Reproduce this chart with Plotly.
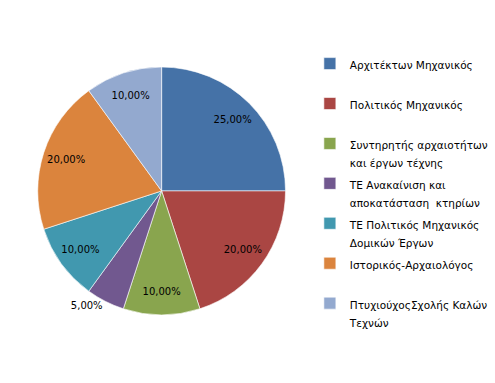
import plotly.graph_objects as go

labels = ["Αρχιτέκτων Μηχανικός",
          "Πολιτικός Μηχανικός",
          "Συντηρητής αρχαιοτήτων<br>και έργων τέχνης",
          "ΤΕ Ανακαίνιση και<br>αποκατάσταση  κτηρίων",
          "ΤΕ Πολιτικός Μηχανικός<br>Δομικών Έργων",
          "Ιστορικός-Αρχαιολόγος",
          "ΠτυχιούχοςΣχολής Καλών<br>Τεχνών"]
values = [25, 20, 10, 5, 10, 20, 10]
colors = ["#4572A7", "#AA4643", "#89A54E", "#71588F", "#4198AF", "#DB843D", "#93A9CF"]
textpos = ["inside", "inside", "inside", "outside", "inside", "inside", "inside"]

# every legend entry is two lines so entries are evenly spaced
def legend_label(l):
    parts = l.split("<br>")
    if len(parts) == 1:
        parts.append(" ")
    return "<br>".join("<span style='font-size:10.5px'>%s</span>" % p for p in parts)

legend_labels = [legend_label(l) for l in labels]

dom = dict(x=[0.075, 0.578], y=[0.178, 0.825])
font = dict(family="DejaVu Sans", size=10, color="#000000")

fig = go.Figure()
fig.add_trace(go.Pie(
    labels=legend_labels, values=values, sort=False,
    direction="clockwise", rotation=0,
    marker=dict(colors=colors, line=dict(color="white", width=0.6)),
    textinfo="none", domain=dom, hoverinfo="label+percent",
))
fig.add_trace(go.Pie(
    labels=legend_labels, values=values, sort=False,
    direction="clockwise", rotation=0, hole=0.62,
    marker=dict(colors=["rgba(0,0,0,0)"] * len(values), line=dict(width=0)),
    texttemplate="%{percent:.2%}", textposition=textpos,
    insidetextorientation="horizontal",
    textfont=font, outsidetextfont=font, insidetextfont=font,
    domain=dom, showlegend=False, hoverinfo="skip",
))

fig.update_layout(
    width=495, height=383,
    margin=dict(l=0, r=0, t=0, b=0),
    paper_bgcolor="white",
    separators=",.",
    showlegend=True,
    legend=dict(x=0.626, y=0.875, xanchor="left", yanchor="top",
                valign="top",
                font=dict(family="DejaVu Sans", size=14.2, color="#000000"),
                itemwidth=30, tracegroupgap=0),
)

fig.write_html("out.html", config={"displayModeBar": False},
               post_script="document.body.style.margin='0';")
